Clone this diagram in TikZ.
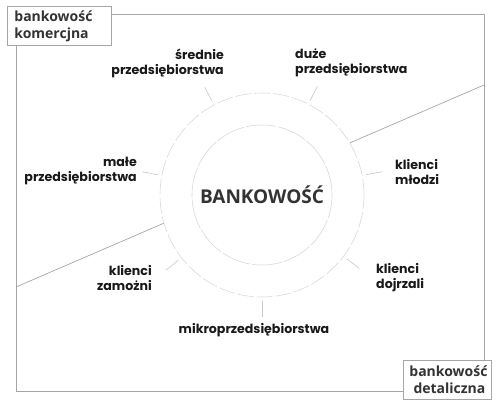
\documentclass[tikz,border=0pt]{standalone}
\usepackage{fontspec}
\setmainfont{Poppins}[BoldFont={Poppins Bold}]
\newfontfamily\opensans{Open Sans}
\usetikzlibrary{calc,positioning}

\begin{document}
\begin{tikzpicture}[
  x=1pt, y=-1pt,
  every node/.style={font=\bfseries\fontsize{12.6}{15}\selectfont, text=black!90},
  segment/.style={inner sep=0pt},
  tag/.style={draw=black!35, fill=white, line width=0.8pt, inner sep=0pt,
              font=\opensans\bfseries\fontsize{14}{17}\selectfont, text=black!80},
  tick/.style={draw=black!22, line width=0.6pt},
  frame/.style={draw=black!35, line width=0.8pt}
]
  \useasboundingbox (0,0) rectangle (500,409);

  % outer frame and split line
  \draw[frame] (16,14) rectangle (484,391);
  \coordinate (splitL) at (16,287);
  \coordinate (splitR) at (484,85);
  \draw[frame, line width=0.7pt] (splitL) -- (splitR);

  % rings
  \node[circle, minimum size=204pt, draw=black!15, fill=white, line width=0.6pt,
        dash pattern=on 16pt off 3pt] (ring) at (262,195) {};
  \node[circle, minimum size=140pt, draw=black!15, fill=white, line width=0.6pt,
        dash pattern=on 30pt off 2pt, font=\opensans\bfseries\fontsize{19}{22}\selectfont,
        text=black!80] (hub) at (262,195) {BANKOWOŚĆ};

  % segments
  \node[segment, anchor=east, align=right] (srednie) at (224,63) {średnie\\przedsiębiorstwa};
  \node[segment, anchor=west, align=left] (duze) at (295,63) {duże\\przedsiębiorstwa};
  \node[segment, anchor=east, align=right] (male) at (137,171) {małe\\przedsiębiorstwa};
  \node[segment, anchor=west, align=left] (mlodzi) at (395,172) {klienci\\młodzi};
  \node[segment, anchor=east, align=right] (zamozni) at (152,278) {klienci\\zamożni};
  \node[segment, anchor=west, align=left] (dojrzali) at (376,278) {klienci\\dojrzali};
  \node[segment, anchor=center] (mikro) at (254,330) {mikroprzedsiębiorstwa};

  % ticks
  \foreach \name/\ang in {srednie/118, duze/63, male/169, mlodzi/11,
                          zamozni/218, dojrzali/323, mikro/270} {
    \coordinate (\name-in) at ($(hub)+(-\ang:106)$);
    \coordinate (\name-out) at ($(hub)+(-\ang:122)$);
    \draw[tick] (\name-out) -- (\name-in);
  }

  % sector tags
  \node[tag, anchor=north west, minimum width=104pt, minimum height=39pt,
        text width=90pt, align=left] (komercja) at (7,6) {bankowość\\komercjna};
  \node[tag, anchor=north west, minimum width=88pt, minimum height=39pt,
        text width=76pt, align=right] (detal) at (403,360) {bankowość\\detaliczna};
\end{tikzpicture}
\end{document}
